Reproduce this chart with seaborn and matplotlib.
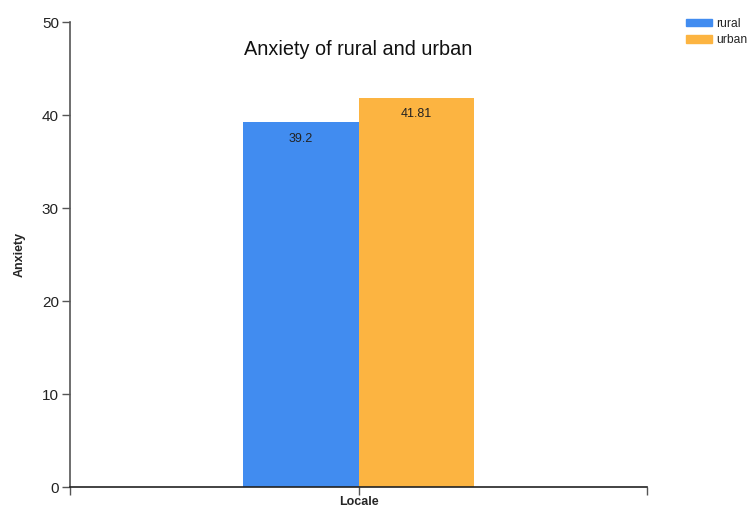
import matplotlib
matplotlib.use("Agg")
import matplotlib.pyplot as plt
import matplotlib.patches as mpatches
import seaborn as sns
import pandas as pd

# Data
locale_groups = ["rural", "urban"]
anxiety_values = [39.2, 41.81]
category = ["Locale", "Locale"]
colors = ["#418CF0", "#FCB441"]

sns.set_style("white")
plt.rcParams["font.family"] = ["Liberation Sans", "DejaVu Sans"]

df = pd.DataFrame({"Locale": category, "group": locale_groups, "Anxiety": anxiety_values})

fig = plt.figure(figsize=(7.5, 5.07), dpi=100)
ax = fig.add_axes([0.0933, 0.0394, 0.7694, 0.9172])

sns.barplot(data=df, x="Locale", y="Anxiety", hue="group", palette=colors,
            width=0.4, dodge=True, saturation=1, ax=ax, legend=False,
            edgecolor="none", linewidth=0)

ax.set_xlim(-0.5, 0.5)
ax.set_ylim(0, 50)
ax.set_yticks([0, 10, 20, 30, 40, 50])

# Value labels inside the top of each bar
for cont, val in zip(ax.containers, anxiety_values):
    ax.bar_label(cont, labels=[f"{val:g}"], padding=-16, fontsize=9, color="#222222")

spine_color = "#555555"
for s in ["top", "right"]:
    ax.spines[s].set_visible(False)
ax.spines["left"].set_color(spine_color)
ax.spines["bottom"].set_color("#222222")
ax.spines["left"].set_linewidth(1.2)
ax.spines["bottom"].set_linewidth(1.2)

ax.tick_params(axis="y", which="major", length=6, width=1, color=spine_color,
               labelsize=11, labelcolor="#222222", left=True, pad=2)
ax.tick_params(axis="x", which="major", length=6, width=1, color=spine_color,
               bottom=True, labelbottom=False)
ax.set_xticks([-0.5, 0.0, 0.5])

ax.set_xlabel("Locale", fontsize=9, fontweight="bold", labelpad=0)
ax.xaxis.set_label_coords(0.5, -0.02, transform=ax.transAxes)
ax.xaxis.label.set_va("top")
ax.set_ylabel("Anxiety", fontsize=9, fontweight="bold")
ax.yaxis.set_label_coords(-0.077, 0.5, transform=ax.transAxes)

ax.set_title("Anxiety of rural and urban", fontsize=14.3, color="#111111", pad=-32, y=1.025)

handles = [mpatches.Patch(color=c, label=l) for c, l in zip(colors, locale_groups)]
fig.legend(handles=handles, loc="upper left", bbox_to_anchor=(0.907, 0.977),
           frameon=False, fontsize=8.7, handlelength=2.1, handleheight=0.6,
           handletextpad=0.35, labelspacing=0.35, borderpad=0)

fig.savefig("out.png", dpi=100)
